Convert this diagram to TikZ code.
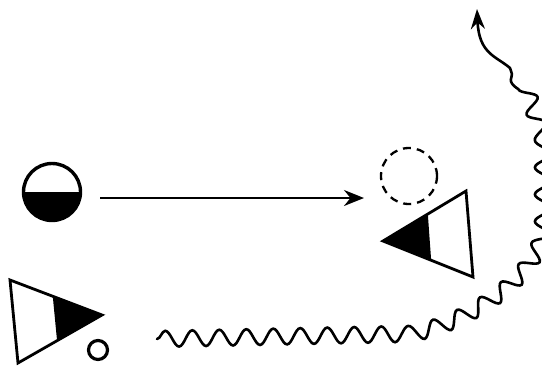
\documentclass[tikz,border=0pt]{standalone}
\usetikzlibrary{arrows.meta,decorations.pathmorphing,calc}
\begin{document}
\begin{tikzpicture}[x=1pt,y=-1pt,
  tri/.style={draw=black,line width=2.8pt,line join=miter},
  wavy/.style={line width=2.6pt,line cap=round,decorate,decoration={snake,segment length=27pt,amplitude=8pt}},
  tail/.style={line width=2.6pt,line cap=round},
  ghostcirc/.style={circle,draw=black,line width=2.3pt,dash pattern=on 8pt off 6pt,minimum size=56pt,inner sep=0pt},
  halfcirc/.style={circle,draw=black,line width=3.4pt,minimum size=57pt,inner sep=0pt,
    path picture={\fill[black] (path picture bounding box.west) rectangle (path picture bounding box.south east);}},
  smallcirc/.style={circle,draw=black,line width=3.2pt,minimum size=19pt,inner sep=0pt}
]
\useasboundingbox (0,0) rectangle (542,365);
% half-filled circle
\node[halfcirc] (half) at (52,192) {};
% dashed circle
\node[ghostcirc] (ghost) at (409,176) {};
% arrow
\coordinate (a1) at (100,198);
\coordinate (a2) at (364,198);
\draw[line width=2.3pt,-{Stealth[length=20pt,width=16pt]}] (a1) -- (a2);
% left triangle
\coordinate (LA) at (10,280);
\coordinate (LB) at (18,363);
\coordinate (LT) at (102,315);
\fill[black] (LT) -- ($(LT)!0.535!(LA)$) -- ($(LT)!0.535!(LB)$) -- cycle;
\draw[tri] (LA) -- (LT) -- (LB) -- cycle;
\node[smallcirc] (small) at (98,350) {};
% right triangle
\coordinate (RT) at (383,241);
\coordinate (RU) at (466,191);
\coordinate (RV) at (473,277);
\fill[black] (RT) -- ($(RT)!0.54!(RU)$) -- ($(RT)!0.535!(RV)$) -- cycle;
\draw[tri] (RU) -- (RT) -- (RV) -- cycle;
% wavy line
\coordinate (w0) at (157,339);
\coordinate (w1) at (405,334);
\coordinate (w2) at (535,235);
\coordinate (w3) at (535,145);
\coordinate (w4) at (510,68);
\coordinate (w5) at (477,9);
\draw[wavy] (w0) -- (w1) .. controls (445,327) and (522,290) .. (w2) -- (w3) -- (w4);
\draw[tail,-{Stealth[length=20pt,width=14pt]}] (w4) .. controls (496,56) and (479,54) .. (w5);
\end{tikzpicture}
\end{document}
